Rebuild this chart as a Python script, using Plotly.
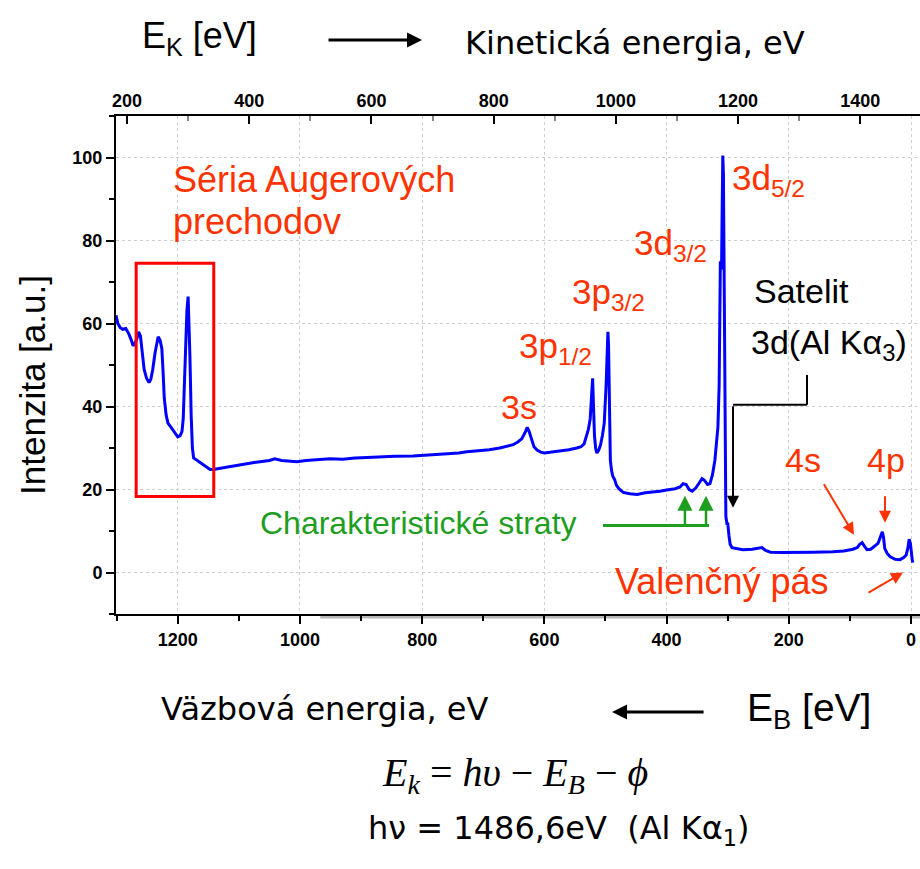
import plotly.graph_objects as go

# ---------------- data ----------------
binding_energy = [1301, 1298, 1294, 1290, 1285, 1280, 1276, 1273, 1270, 1267, 1264, 1261, 1258, 1255,
                  1251, 1247, 1244, 1241, 1237, 1234, 1232, 1229, 1226, 1224, 1222, 1219, 1216, 1212,
                  1208, 1204, 1200, 1196, 1193, 1191, 1189, 1187, 1185, 1183, 1182, 1180, 1178, 1176,
                  1174, 1171, 1167, 1163, 1158, 1152, 1147, 1142, 1135, 1125, 1115, 1100, 1087, 1075,
                  1060, 1050, 1041, 1030, 1015, 1005, 990, 970, 951, 930, 910, 890, 869, 845, 815, 790,
                  759, 740, 727, 705, 690, 673, 660, 651, 643, 637, 632, 628, 625, 621, 617, 612, 606,
                  600, 590, 580, 570, 560, 547, 540, 535, 531, 528, 525, 523, 522, 521, 520, 518, 516,
                  514, 511, 508, 505, 502, 499, 497, 496, 495, 494, 492, 490, 488, 485, 482, 478, 471,
                  460, 448, 435, 425, 411, 400, 386, 378, 373, 368, 363, 358, 352, 347, 342, 338, 333,
                  329, 325, 321, 318, 316, 314, 313, 312, 311, 310, 309, 308, 307, 306, 305, 304, 303,
                  301, 300, 298, 296, 293, 285, 275, 260, 250, 244, 238, 230, 210, 182, 160, 128, 110,
                  95, 88, 84, 80, 76, 72, 66, 60, 54, 50, 47, 45, 43, 39, 34, 26, 18, 12, 8, 5, 3, 1,
                  0, -2, -3]
intensity = [62.0, 60.0, 59.0, 58.6, 58.8, 57.5, 56.0, 54.6, 55.3, 56.2, 58.0, 57.0, 53.0, 49.0,
             46.8, 45.8, 46.6, 48.8, 53.0, 56.0, 56.8, 56.0, 54.0, 48.5, 42.0, 38.0, 36.0, 35.2,
             34.3, 33.4, 32.7, 33.0, 34.0, 37.0, 45.0, 56.0, 63.0, 66.5, 63.0, 52.0, 38.0, 30.0,
             27.6, 27.3, 26.8, 26.4, 25.8, 25.2, 24.8, 24.8, 25.0, 25.2, 25.5, 25.9, 26.2, 26.5,
             26.7, 27.0, 27.4, 27.0, 26.8, 26.7, 27.0, 27.2, 27.4, 27.3, 27.6, 27.7, 27.9, 28.0,
             28.1, 28.3, 28.6, 28.8, 29.1, 29.3, 29.6, 30.0, 30.4, 30.8, 31.5, 32.2, 33.6, 35.0,
             34.0, 32.0, 30.3, 29.5, 29.0, 28.8, 29.0, 29.2, 29.3, 29.6, 30.0, 30.3, 31.0, 32.8,
             34.5, 37.0, 42.0, 46.5, 46.8, 42.0, 33.0, 29.8, 28.8, 29.5, 30.8, 33.0, 36.0, 45.0,
             55.0, 58.0, 55.0, 40.0, 27.0, 24.5, 23.2, 22.4, 21.0, 20.2, 19.3, 19.0, 18.8, 19.2,
             19.3, 19.6, 19.9, 20.2, 20.6, 21.4, 21.2, 20.0, 19.6, 20.4, 21.5, 22.6, 22.2, 21.2,
             21.4, 23.5, 27.0, 31.0, 35.0, 45.0, 62.0, 75.0, 73.0, 74.0, 88.0, 100.5, 96.0, 70.0,
             40.0, 20.0, 13.5, 11.5, 12.0, 9.0, 6.8, 6.0, 5.7, 5.5, 5.6, 5.9, 6.0, 5.3, 4.9, 4.8,
             4.8, 4.9, 5.0, 5.2, 5.6, 6.0, 6.8, 7.2, 6.3, 5.5, 5.6, 6.2, 7.0, 8.6, 9.8, 8.5, 5.8,
             4.6, 3.8, 3.2, 3.1, 3.6, 4.2, 6.0, 8.0, 7.0, 5.0, 3.0, 2.4]

KE_OFFSET = 1483.0          # kinetic energy = KE_OFFSET - binding energy
be_range = [1301, -14.7]
y_range = [-10, 110]
y_ticks = [0, 20, 40, 60, 80, 100]
be_ticks = [1200, 1000, 800, 600, 400, 200, 0]
ke_ticks = [200, 400, 600, 800, 1000, 1200, 1400]

kinetic_energy = [KE_OFFSET - b for b in binding_energy]

# ---------------- figure ----------------
RED = "#ff3300"
GREEN = "#1e9e1e"
ARIAL = "Liberation Sans"
COMIC = "DejaVu Sans"

fig = go.Figure()
fig.add_trace(go.Scatter(x=binding_energy, y=intensity, mode="lines",
                         line=dict(color="#0000ff", width=3), showlegend=False,
                         hoverinfo="skip"))
fig.add_trace(go.Scatter(x=kinetic_energy, y=intensity, mode="markers", xaxis="x2",
                         marker=dict(size=1, opacity=0), showlegend=False, hoverinfo="skip"))


def bold(vals):
    return ["<b>%d</b>" % v for v in vals]


TICKFONT = dict(family=ARIAL, size=18, color="black")
grid = dict(showgrid=True, gridcolor="#cfcfcf", gridwidth=1, griddash="dot")

fig.update_layout(
    width=920, height=869,
    margin=dict(l=116, r=0, t=116, b=255),
    paper_bgcolor="white", plot_bgcolor="white",
    xaxis=dict(range=be_range, tickmode="array", tickvals=be_ticks, ticktext=bold(be_ticks),
               ticks="outside", ticklen=8, tickwidth=1.5,
               tickcolor="black", showline=True, linecolor="black", linewidth=2,
               zeroline=False, tickfont=dict(TICKFONT), anchor="y",
               minor=dict(dtick=100, tick0=0, ticks="outside", ticklen=5, tickcolor="black",
                          showgrid=False), **grid),
    xaxis2=dict(range=[KE_OFFSET - be_range[0], KE_OFFSET - be_range[1]], tickmode="array",
                tickvals=ke_ticks, ticktext=bold(ke_ticks),
                overlaying="x", side="top", anchor="y", ticks="inside", ticklen=8,
                tickwidth=1.5, tickcolor="black", showline=True, linecolor="black",
                linewidth=2, showgrid=False, zeroline=False, tickfont=dict(TICKFONT),
                minor=dict(dtick=100, tick0=0, ticks="inside", ticklen=5, tickcolor="#888888")),
    yaxis=dict(range=y_range, tickmode="array", tickvals=y_ticks, ticktext=bold(y_ticks),
               ticks="outside", ticklen=8, tickwidth=1.5,
               tickcolor="black", showline=True, linecolor="black", linewidth=2,
               zeroline=False, tickfont=dict(TICKFONT),
               minor=dict(dtick=10, tick0=0, ticks="outside", ticklen=5, tickcolor="black",
                          showgrid=False), **grid),
)

# grey shadow under part of the bottom axis
fig.add_shape(type="line", x0=0.254, x1=1.0, y0=-0.006, y1=-0.006, xref="paper",
              yref="paper", line=dict(color="#b8b8b8", width=3), layer="below")
# red box around Auger series
fig.add_shape(type="rect", x0=1268, x1=1141, y0=18.3, y1=74.5, xref="x", yref="y",
              line=dict(color="#ff0000", width=3))
# satellite leader line
fig.add_shape(type="line", x0=170.2, x1=170.2, y0=47.6, y1=40.4, xref="x", yref="y",
              line=dict(color="black", width=2))
fig.add_shape(type="line", x0=170.2, x1=291.3, y0=40.4, y1=40.4, xref="x", yref="y",
              line=dict(color="black", width=2))
# characteristic losses line
fig.add_shape(type="line", x0=504, x1=330.6, y0=11.3, y1=11.3, xref="x", yref="y",
              line=dict(color=GREEN, width=3))

ann = []


def txt(text, x, y, size, color, family=ARIAL, xanchor="left", yanchor="middle",
        xref="x", yref="y", **kw):
    ann.append(dict(text=text, x=x, y=y, xref=xref, yref=yref, showarrow=False,
                    xanchor=xanchor, yanchor=yanchor,
                    font=dict(family=family, size=size, color=color), **kw))


def arrow(x, y, ax, ay, color, width=2, size=1.2, xref="x", yref="y", aref="data"):
    d = dict(text="", x=x, y=y, ax=ax, ay=ay, xref=xref, yref=yref, showarrow=True,
             arrowhead=2, arrowsize=size, arrowwidth=width, arrowcolor=color)
    if aref == "data":
        d["axref"] = xref
        d["ayref"] = yref
    ann.append(d)


# labels inside the plot
txt("Séria Augerových", 1211, 94.8, 36, RED)
txt("prechodov", 1211, 84.6, 36, RED)
txt("3d<sub>5/2</sub>", 297, 94.5, 35, RED)
txt("3d<sub>3/2</sub>", 457, 79.0, 35, RED)
txt("3p<sub>3/2</sub>", 558, 67.2, 35, RED)
txt("3p<sub>1/2</sub>", 645, 54.0, 35, RED)
txt("3s", 674, 40.0, 34, RED)
txt("Satelit", 261, 67.8, 34, "black")
txt("3d(Al Kα<sub>3</sub>)", 264.5, 55.0, 34, "black")
txt("4s", 210, 27.0, 34, RED)
txt("4p", 76, 27.0, 34, RED)
txt("Valenčný pás", 132.6, -2.2, 36, RED, xanchor="right")
txt("Charakteristické straty", 544, 12.0, 32, GREEN, xanchor="right")

# arrows inside the plot
arrow(93.3, 9.1, 144, 21.6, RED)
arrow(42.6, 12.0, 42.6, 18.75, RED)
arrow(13.1, 0.0, 72, -5.05, RED)
arrow(291.3, 15.6, 291.3, 40.4, "black")
arrow(370, 18.5, 370, 11.3, GREEN, width=2.5)
arrow(335.5, 18.5, 335.5, 11.3, GREEN, width=2.5)

# texts outside the plot (paper coordinates)
txt("E<sub>K</sub> [eV]", 0.0299, 1.1566, 36, "black", xref="paper", yref="paper")
arrow(0.3806, 1.1526, -95, 0, "black", width=3, size=1.0, xref="paper", yref="paper",
      aref="pixel")
txt("Kinetická energia, eV", 0.432, 1.1466, 32, "black", family=COMIC,
    xref="paper", yref="paper")
txt("Intenzita [a.u.]", -0.1032, 0.46, 35, "black", xanchor="center",
    xref="paper", yref="paper", textangle=-90)
txt("Väzbová energia, eV", 0.0537, -0.1908, 32, "black", family=COMIC,
    xref="paper", yref="paper")
arrow(0.617, -0.1968, 93, 0, "black", width=3, size=1.0, xref="paper", yref="paper",
      aref="pixel")
txt("E<sub>B</sub> [eV]", 0.7823, -0.1928, 39, "black", xref="paper", yref="paper")
txt("<i>E<sub>k</sub></i> = <i>hυ</i> − <i>E<sub>B</sub></i> − <i>ϕ</i>", 0.4963, -0.3233, 40,
    "black", family="Liberation Serif", xanchor="center", xref="paper", yref="paper")
txt("hν = 1486,6eV  (Al Kα<sub>1</sub>)", 0.55, -0.4337, 32, "black", family=COMIC,
    xanchor="center", xref="paper", yref="paper")

fig.update_layout(annotations=ann)
fig.write_html("out.html")
